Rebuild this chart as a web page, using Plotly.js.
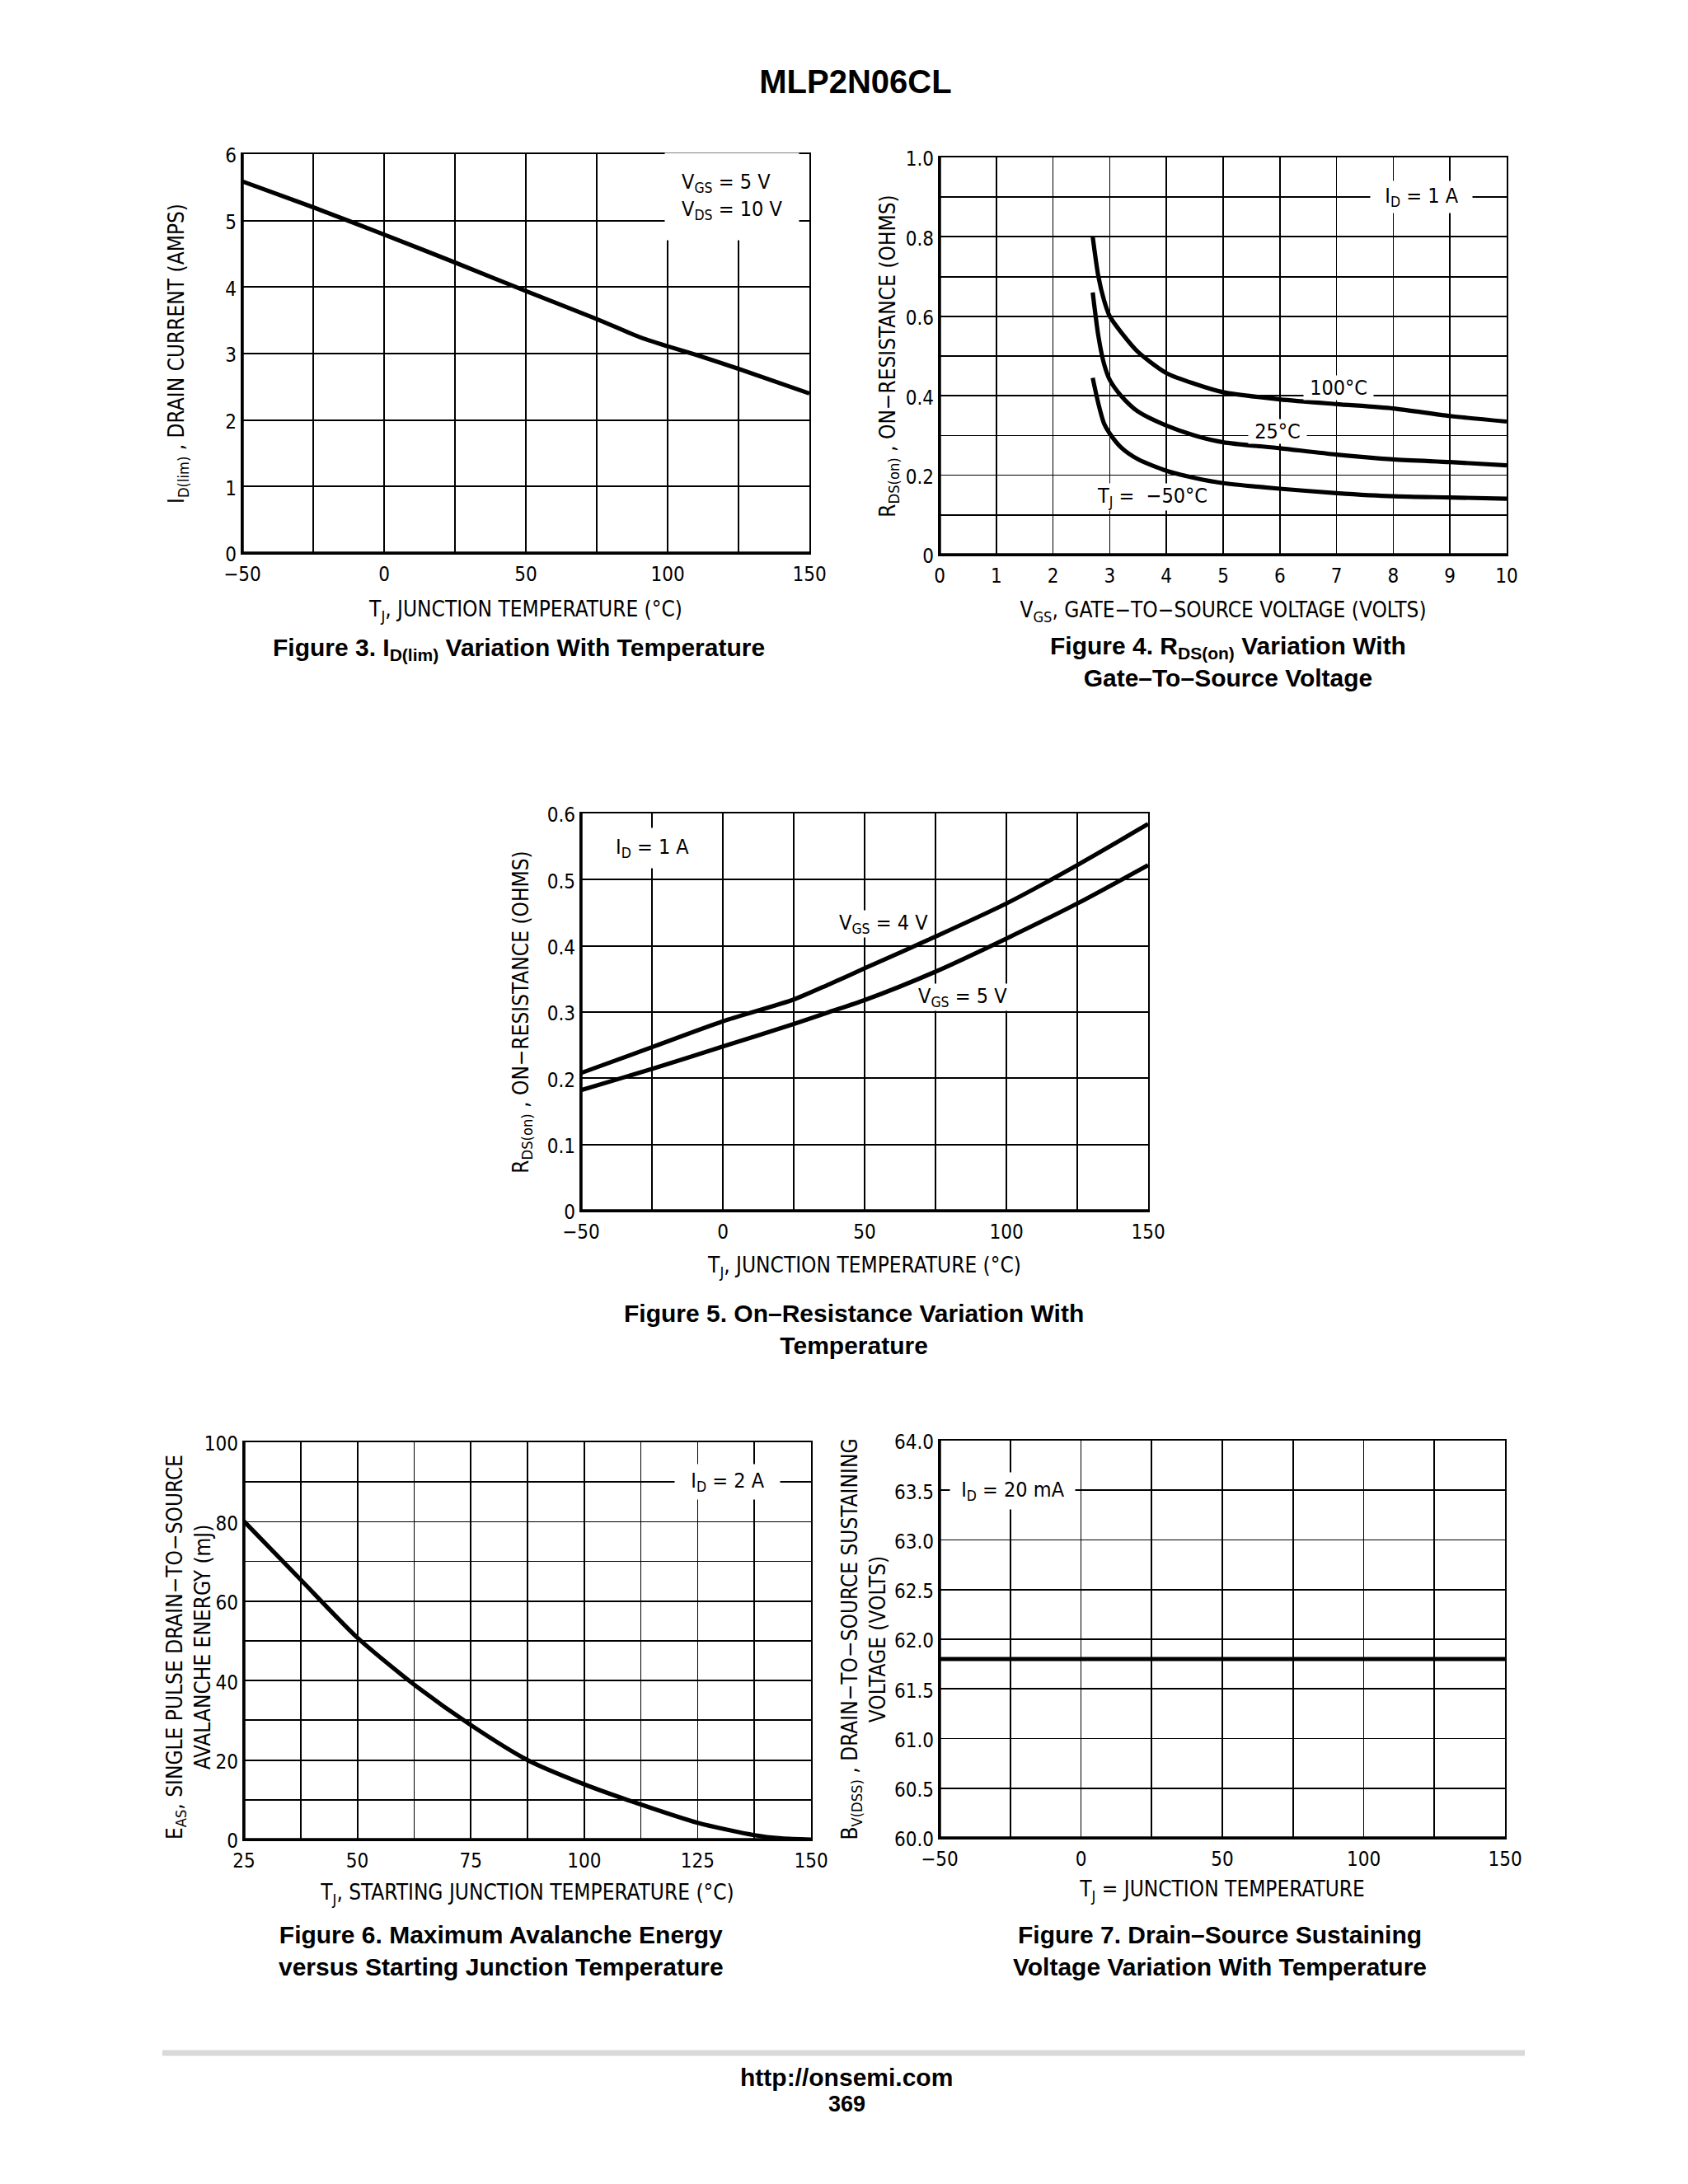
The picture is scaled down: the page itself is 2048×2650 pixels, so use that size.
<!DOCTYPE html>
<html>
<head>
<meta charset="utf-8">
<script src="https://cdn.plot.ly/plotly-3.0.1.min.js"></script>
<style>
html, body { margin: 0; padding: 0; background: #ffffff; }
#chart { width: 2048px; height: 2650px; }
</style>
</head>
<body>
<div id="chart"></div>
<script>
// ---------------- DATA ----------------
// Figure 3: I_D(lim) vs junction temperature
const fig3TempC = [-50, -25, 0, 25, 50, 75, 90, 100, 110, 125, 150];
const fig3IdLimA = [5.59, 5.20, 4.79, 4.37, 3.94, 3.52, 3.25, 3.11, 2.98, 2.77, 2.40];
const fig3XTickVals = [-50, 0, 50, 100, 150];
const fig3XTickText = ['\u221250', '0', '50', '100', '150'];
const fig3XGridVals = [-50, -25, 0, 25, 50, 75, 100, 125, 150];
const fig3YTickVals = [0, 1, 2, 3, 4, 5, 6];
const fig3YTickText = ['0', '1', '2', '3', '4', '5', '6'];
const fig3YGridVals = [0, 1, 2, 3, 4, 5, 6];

// Figure 4: R_DS(on) vs V_GS
const fig4Vgs = [2.7, 2.8, 2.9, 3.0, 3.2, 3.5, 4.0, 4.5, 5, 6, 7, 8, 9, 10];
const fig4R100C = [0.80, 0.70, 0.64, 0.60, 0.56, 0.51, 0.457, 0.43, 0.409, 0.391, 0.379, 0.368, 0.349, 0.335];
const fig4R25C = [0.66, 0.55, 0.48, 0.44, 0.40, 0.36, 0.325, 0.30, 0.283, 0.268, 0.252, 0.240, 0.233, 0.225];
const fig4RMinus50C = [0.445, 0.38, 0.33, 0.305, 0.27, 0.24, 0.211, 0.193, 0.18, 0.166, 0.155, 0.147, 0.144, 0.141];
const fig4XTickVals = [0, 1, 2, 3, 4, 5, 6, 7, 8, 9, 10];
const fig4XTickText = ['0', '1', '2', '3', '4', '5', '6', '7', '8', '9', '10'];
const fig4XGridVals = [0, 1, 2, 3, 4, 5, 6, 7, 8, 9, 10];
const fig4YTickVals = [0, 0.2, 0.4, 0.6, 0.8, 1.0];
const fig4YTickText = ['0', '0.2', '0.4', '0.6', '0.8', '1.0'];
const fig4YGridVals = [0, 0.1, 0.2, 0.3, 0.4, 0.5, 0.6, 0.7, 0.8, 0.9, 1.0];

// Figure 5: R_DS(on) vs temperature
const fig5TempC = [-50, -25, 0, 25, 37.5, 50, 75, 100, 125, 150];
const fig5RVgs4 = [0.208, 0.247, 0.286, 0.319, 0.342, 0.366, 0.414, 0.464, 0.522, 0.584];
const fig5RVgs5 = [0.182, 0.214, 0.248, 0.282, 0.300, 0.318, 0.361, 0.411, 0.464, 0.522];
const fig5XTickVals = [-50, 0, 50, 100, 150];
const fig5XTickText = ['\u221250', '0', '50', '100', '150'];
const fig5XGridVals = [-50, -25, 0, 25, 50, 75, 100, 125, 150];
const fig5YTickVals = [0, 0.1, 0.2, 0.3, 0.4, 0.5, 0.6];
const fig5YTickText = ['0', '0.1', '0.2', '0.3', '0.4', '0.5', '0.6'];
const fig5YGridVals = [0, 0.1, 0.2, 0.3, 0.4, 0.5, 0.6];

// Figure 6: avalanche energy vs starting temperature
const fig6TempC = [25, 37.5, 50, 62.5, 75, 87.5, 100, 112.5, 125, 137.5, 143.5, 150];
const fig6EasMJ = [80.1, 65.4, 50.8, 39.0, 28.8, 20.0, 13.9, 8.8, 4.2, 1.1, 0.3, 0];
const fig6XTickVals = [25, 50, 75, 100, 125, 150];
const fig6XTickText = ['25', '50', '75', '100', '125', '150'];
const fig6XGridVals = [25, 37.5, 50, 62.5, 75, 87.5, 100, 112.5, 125, 137.5, 150];
const fig6YTickVals = [0, 20, 40, 60, 80, 100];
const fig6YTickText = ['0', '20', '40', '60', '80', '100'];
const fig6YGridVals = [0, 10, 20, 30, 40, 50, 60, 70, 80, 90, 100];

// Figure 7: BV(DSS) vs temperature
const fig7TempC = [-50, 0, 50, 100, 150];
const fig7BvdssV = [61.8, 61.8, 61.8, 61.8, 61.8];
const fig7XTickVals = [-50, 0, 50, 100, 150];
const fig7XTickText = ['\u221250', '0', '50', '100', '150'];
const fig7XGridVals = [-50, -25, 0, 25, 50, 75, 100, 125, 150];
const fig7YTickVals = [60, 60.5, 61, 61.5, 62, 62.5, 63, 63.5, 64];
const fig7YTickText = ['60.0', '60.5', '61.0', '61.5', '62.0', '62.5', '63.0', '63.5', '64.0'];
const fig7YGridVals = [60, 60.5, 61, 61.5, 62, 62.5, 63, 63.5, 64];

// ---------------- STYLE / LAYOUT ----------------
const W = 2048, H = 2650;
const NARROW = 'Liberation Sans Narrow, Arial Narrow, DejaVu Sans Condensed, sans-serif';
const BOLD = 'Liberation Sans, Arial, Helvetica, sans-serif';
const BLACK = '#000000';

function xd(p0, p1) { return [p0 / W, p1 / W]; }
function yd(p0, p1) { return [1 - p1 / H, 1 - p0 / H]; }

function axis(domain, range, vals, text, grid, anchor, title, standoff, isY) {
  return {
    domain: domain, range: range, anchor: anchor,
    tickmode: 'array', tickvals: vals, ticktext: text,
    showgrid: true, gridcolor: BLACK, gridwidth: 1.8,
    minor: { tickmode: 'array', tickvals: grid, showgrid: true, gridcolor: BLACK, gridwidth: 1.8, ticks: '' },
    showline: true, linecolor: BLACK, linewidth: 2.2, mirror: true,
    zeroline: false, ticks: '', fixedrange: true, automargin: false,
    tickfont: { family: NARROW, size: 24, color: BLACK },
    ticklabelshift: isY ? 2 : 0,
    ticklabelstandoff: isY ? 0 : 3,
    title: { text: title, standoff: standoff, font: { family: NARROW, size: 26, color: BLACK } }
  };
}

function curve(x, y, xa, ya, width) {
  return {
    type: 'scatter', mode: 'lines', x: x, y: y, xaxis: xa, yaxis: ya,
    line: { color: BLACK, width: width || 5.2, shape: 'spline', smoothing: 0.7 },
    hoverinfo: 'skip', showlegend: false, cliponaxis: true
  };
}

const traces = [
  curve(fig3TempC, fig3IdLimA, 'x', 'y'),
  curve(fig4Vgs, fig4R100C, 'x2', 'y2'),
  curve(fig4Vgs, fig4R25C, 'x2', 'y2'),
  curve(fig4Vgs, fig4RMinus50C, 'x2', 'y2'),
  curve(fig5TempC, fig5RVgs4, 'x3', 'y3'),
  curve(fig5TempC, fig5RVgs5, 'x3', 'y3'),
  curve(fig6TempC, fig6EasMJ, 'x4', 'y4'),
  curve(fig7TempC, fig7BvdssV, 'x5', 'y5', 5)
];

function label(xa, ya, x, y, text, pad, align) {
  return {
    xref: xa, yref: ya, x: x, y: y, text: text, showarrow: false,
    xanchor: 'center', yanchor: 'middle', align: align || 'center',
    bgcolor: '#ffffff', borderpad: pad,
    font: { family: NARROW, size: 25, color: BLACK }
  };
}

function pageText(px, py, text, size) {
  return {
    xref: 'paper', yref: 'paper', x: px / W, y: 1 - py / H, text: text,
    showarrow: false, xanchor: 'center', yanchor: 'middle', align: 'center',
    font: { family: BOLD, size: size, color: BLACK }
  };
}

function thickEdges(xa, ya) {
  return [
    { type: 'line', xref: xa + ' domain', yref: ya + ' domain', x0: 0, x1: 0, y0: 0, y1: 1,
      line: { color: BLACK, width: 3.5 }, layer: 'above' },
    { type: 'line', xref: xa + ' domain', yref: ya + ' domain', x0: 0, x1: 1, y0: 0, y1: 0,
      line: { color: BLACK, width: 3.5 }, layer: 'above' }
  ];
}

const annotations = [
  // in-plot labels
  label('x', 'y', 122.7, 5.36, 'V<sub>GS</sub> = 5 V<br>V<sub>DS</sub> = 10 V', 20, 'left'),
  label('x2', 'y2', 8.49, 0.9, '&nbsp;&nbsp;I<sub>D</sub> = 1 A&nbsp;&nbsp;', 3),
  label('x2', 'y2', 7.03, 0.421, '&nbsp;100\u00B0C&nbsp;', 0),
  label('x2', 'y2', 5.96, 0.311, '&nbsp;25\u00B0C&nbsp;', 0),
  label('x2', 'y2', 3.75, 0.145, 'T<sub>J</sub> =  \u221250\u00B0C', 0),
  label('x3', 'y3', -25, 0.548, 'I<sub>D</sub> = 1 A', 8),
  label('x3', 'y3', 56.7, 0.433, 'V<sub>GS</sub> = 4 V', 0),
  label('x3', 'y3', 84.5, 0.322, 'V<sub>GS</sub> = 5 V', 0),
  label('x4', 'y4', 131.5, 90, '&nbsp;&nbsp;I<sub>D</sub> = 2 A&nbsp;&nbsp;', 5),
  label('x5', 'y5', -24.1, 63.49, '&nbsp;I<sub>D</sub> = 20 mA&nbsp;', 6),
  // Figure 6 y-axis title (two lines, placed beside its tick labels)
  {
    xref: 'paper', yref: 'paper', x: 229 / W, y: 1 - 1999 / H, textangle: -90,
    text: 'E<sub>AS</sub>, SINGLE PULSE DRAIN\u2212TO\u2212SOURCE<br>AVALANCHE ENERGY (mJ)',
    showarrow: false, xanchor: 'center', yanchor: 'middle', align: 'center',
    font: { family: NARROW, size: 26, color: BLACK }
  },
  // captions
  pageText(629, 787, '<b>Figure 3. I<sub>D(lim)</sub> Variation With Temperature</b>', 30),
  pageText(1490, 803, '<b>Figure 4. R<sub>DS(on)</sub> Variation With</b><br><b>Gate\u2013To\u2013Source Voltage</b>', 30),
  pageText(1036, 1613, '<b>Figure 5. On\u2013Resistance Variation With</b><br><b>Temperature</b>', 30),
  pageText(608, 2367, '<b>Figure 6. Maximum Avalanche Energy</b><br><b>versus Starting Junction Temperature</b>', 30),
  pageText(1480, 2367, '<b>Figure 7. Drain\u2013Source Sustaining</b><br><b>Voltage Variation With Temperature</b>', 30),
  // footer
  pageText(1027, 2520, '<b>http://onsemi.com</b>', 30),
  pageText(1027, 2553, '<b>369</b>', 27)
];

const shapes = [].concat(
  thickEdges('x', 'y'), thickEdges('x2', 'y2'), thickEdges('x3', 'y3'),
  thickEdges('x4', 'y4'), thickEdges('x5', 'y5'),
  [{ type: 'line', xref: 'paper', yref: 'paper', x0: 197 / W, x1: 1850 / W,
     y0: 1 - 2491 / H, y1: 1 - 2491 / H, line: { color: '#d9d9d9', width: 7 } }]
);

const layout = {
  width: W, height: H,
  margin: { l: 0, r: 0, t: 0, b: 0, pad: 0 },
  paper_bgcolor: '#ffffff', plot_bgcolor: '#ffffff',
  showlegend: false,
  title: { text: '<b>MLP2N06CL</b>', font: { family: BOLD, size: 40, color: BLACK },
           x: 1038 / W, xanchor: 'center', y: 1 - 99 / H, yanchor: 'middle' },
  xaxis:  axis(xd(294, 982),   [-50, 150], fig3XTickVals, fig3XTickText, fig3XGridVals, 'y',  'T<sub>J</sub>, JUNCTION TEMPERATURE (\u00B0C)', 20, false),
  yaxis:  axis(yd(187, 671),   [0, 6],     fig3YTickVals, fig3YTickText, fig3YGridVals, 'x',  'I<sub>D(lim)</sub> , DRAIN CURRENT (AMPS)', 42, true),
  xaxis2: axis(xd(1140, 1828), [0, 10],    fig4XTickVals, fig4XTickText, fig4XGridVals, 'y2', 'V<sub>GS</sub>, GATE\u2212TO\u2212SOURCE VOLTAGE (VOLTS)', 19, false),
  yaxis2: axis(yd(191, 673),   [0, 1.0],   fig4YTickVals, fig4YTickText, fig4YGridVals, 'x2', 'R<sub>DS(on)</sub> , ON\u2212RESISTANCE (OHMS)', 5, true),
  xaxis3: axis(xd(705, 1393),  [-50, 150], fig5XTickVals, fig5XTickText, fig5XGridVals, 'y3', 'T<sub>J</sub>, JUNCTION TEMPERATURE (\u00B0C)', 18, false),
  yaxis3: axis(yd(987, 1469),  [0, 0.6],   fig5YTickVals, fig5YTickText, fig5YGridVals, 'x3', 'R<sub>DS(on)</sub> , ON\u2212RESISTANCE (OHMS)', 15, true),
  xaxis4: axis(xd(296, 984),   [25, 150],  fig6XTickVals, fig6XTickText, fig6XGridVals, 'y4', 'T<sub>J</sub>, STARTING JUNCTION TEMPERATURE (\u00B0C)', 16, false),
  yaxis4: axis(yd(1750, 2232), [0, 100],   fig6YTickVals, fig6YTickText, fig6YGridVals, 'x4', '', 2, true),
  xaxis5: axis(xd(1140, 1826), [-50, 150], fig7XTickVals, fig7XTickText, fig7XGridVals, 'y5', 'T<sub>J</sub> = JUNCTION TEMPERATURE', 14, false),
  yaxis5: axis(yd(1748, 2230), [60, 64],   fig7YTickVals, fig7YTickText, fig7YGridVals, 'x5', 'B<sub>V(DSS)</sub> , DRAIN\u2212TO\u2212SOURCE SUSTAINING<br>VOLTAGE (VOLTS)', 3, true),
  annotations: annotations,
  shapes: shapes
};

Plotly.newPlot('chart', traces, layout, { staticPlot: true, displayModeBar: false });
</script>
</body>
</html>
